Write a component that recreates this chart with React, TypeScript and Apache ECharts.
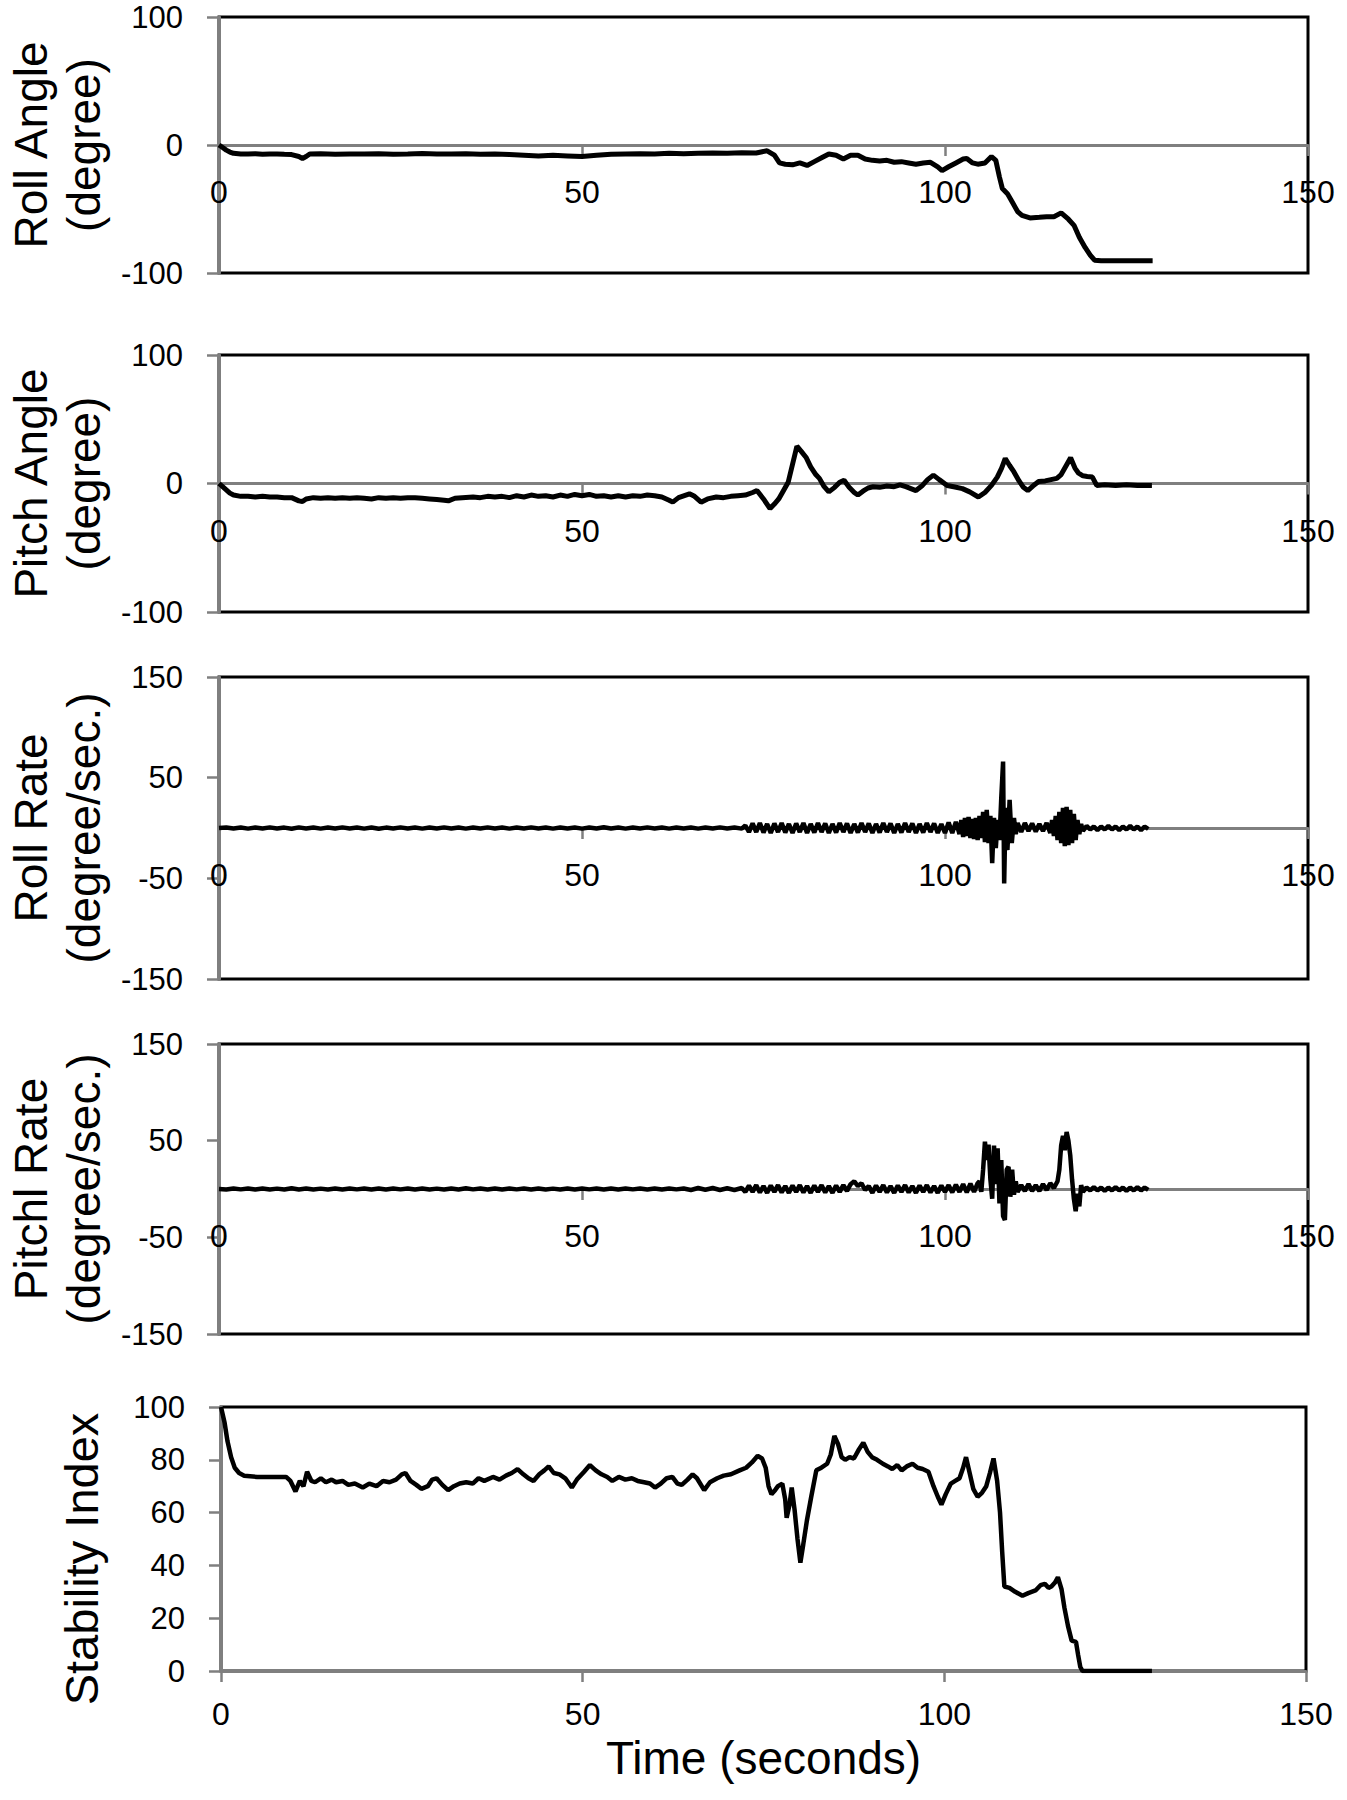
import React, { useEffect, useRef } from "react";
import * as echarts from "echarts";

// ---------- data (time in seconds, value) ----------
const xTicks = [0, 50, 100, 150];

const rollAngle: number[][] = [
  [0, 0], [0.5, -2], [1, -4], [1.5, -5.5], [2, -6.5], [3, -7], [4, -7], [5, -6.8], [6, -7.2], [7, -7], [8, -7], [9, -7.3], [10, -7.5], [11, -9], [11.5, -10.5], [12, -9], [12.5, -7], [14, -6.8], [16, -7.2], [18, -7], [20, -7.1], [22, -6.8], [24, -7.2], [26, -7], [28, -6.7], [30, -7.1], [32, -7], [34, -6.8], [36, -7.3], [38, -7], [40, -7.5], [42, -8], [44, -8.5], [46, -8], [48, -8.5], [50, -9], [52, -8], [54, -7.2], [56, -7], [58, -6.8], [60, -7], [62, -6.5], [64, -6.8], [66, -6.5], [68, -6.3], [70, -6.5], [72, -6], [74, -6.2], [75.5, -4.5], [76.5, -8], [77.2, -14], [78, -15], [79, -15.5], [80, -14], [81, -16], [82, -13], [83, -10], [84, -7], [85, -8], [86, -11], [87, -8], [88, -8], [89, -11], [90, -12], [91, -12.5], [92, -12], [93, -13.5], [94, -13], [95, -14], [96, -15], [97, -14], [98, -13.5], [99, -17], [99.6, -20], [100.5, -17], [101.5, -14], [102.5, -11], [103, -10.5], [103.8, -14], [104.5, -15], [105.5, -14], [106.4, -9], [107, -12], [107.5, -25], [107.9, -34], [108.6, -38], [109.3, -45], [110, -52], [110.6, -55], [111.7, -57], [113, -56.5], [114, -56], [115, -56], [116, -53], [117, -58], [117.8, -63], [118.5, -72], [119.3, -80], [120, -86], [120.6, -90], [121.5, -90.5], [123, -90.5], [125, -90.5], [127, -90.5], [128.6, -90.5],
];

const pitchAngle: number[][] = [
  [0, 0], [0.5, -2.5], [1, -5], [1.5, -7.5], [2, -9], [3, -10], [4, -10], [5, -10.5], [6, -10], [7, -10.5], [8, -10.5], [9, -11], [10, -11], [11, -13.5], [11.5, -14], [12, -12], [13, -11], [14, -11.5], [15, -11], [16, -11.5], [17, -11], [18, -11.5], [19, -11], [20, -11.5], [21, -12], [22, -11], [23, -11.5], [24, -11], [25, -11.5], [26, -11], [27, -11], [28, -11.5], [29, -12], [30, -12.5], [31, -13], [31.6, -13.5], [32.5, -11.5], [33.5, -11], [35, -10.5], [36, -11], [37, -10], [38, -10.5], [39, -10], [40, -11], [41, -9.5], [42, -10.5], [43, -9], [44, -10], [45, -9.5], [46, -10.5], [47, -9], [48, -10], [49, -8.5], [50, -9.5], [51, -8.5], [52, -10], [53, -9.5], [54, -10.5], [55, -9.5], [56, -10.5], [57, -9.5], [58, -10], [59, -9], [60, -9.5], [61, -10.5], [62, -13], [62.5, -14.5], [63.3, -11], [64.8, -8], [65.5, -10], [66.4, -14.5], [67.3, -12], [68.5, -10.5], [69.5, -11], [70.5, -10], [71.5, -9.5], [72.5, -9], [73.5, -7], [74.1, -5.5], [75, -12], [75.9, -19.5], [76.5, -16], [77.1, -12], [77.8, -5], [78.4, 1], [79, 15], [79.6, 29], [80.2, 25], [80.9, 20], [81.5, 13], [82.2, 7], [82.7, 4], [83.3, -2], [84, -6.5], [84.8, -3], [85.5, 1], [86.1, 2.5], [86.8, -3], [87.5, -7], [88, -9], [88.7, -6], [89.4, -3.5], [90.1, -2.5], [91, -3], [92, -2], [93, -2.5], [93.8, -1], [94.6, -2.5], [95.3, -4], [96, -5.5], [96.8, -2], [97.6, 3], [98.4, 6.5], [99.2, 3], [100.3, -1.5], [101.2, -2.5], [102.4, -4], [103.4, -6.5], [104.6, -10.5], [105.5, -7], [106.4, -1.5], [107.2, 5], [107.8, 12], [108.3, 19.5], [108.9, 14], [109.5, 9], [110.2, 2], [110.8, -3], [111.4, -5.5], [112.1, -2], [112.9, 1.5], [113.8, 2], [114.6, 3], [115.4, 4], [116, 7], [116.7, 14], [117.3, 20], [117.9, 12], [118.4, 8], [119, 6], [119.6, 5.5], [120.3, 5], [120.9, -1.5], [122, -1], [123.5, -1.5], [125, -1], [126.5, -1.5], [128.5, -1.5],
];

const rollRate: number[][] = [
  [0, 0], [1, 0.5], [2, -0.5], [3, 0.4], [4, -0.6], [5, 0.5], [6, -0.4], [7, 0.6], [8, -0.5], [9, 0.4], [10, -0.8], [11, 0.6], [12, -0.5], [13, 0.5], [14, -0.6], [15, 0.4], [16, -0.5], [17, 0.6], [18, -0.4], [19, 0.5], [20, -0.6], [21, 0.5], [22, -0.8], [23, 0.4], [24, -0.5], [25, 0.6], [26, -0.5], [27, 0.4], [28, -0.6], [29, 0.5], [30, -0.4], [31, 0.6], [32, -0.5], [33, 0.5], [34, -0.6], [35, 0.4], [36, -0.5], [37, 0.6], [38, -0.5], [39, 0.4], [40, -0.6], [41, 0.5], [42, -0.5], [43, 0.6], [44, -0.4], [45, 0.5], [46, -0.6], [47, 0.5], [48, -0.5], [49, 0.4], [50, -0.6], [51, 0.5], [52, -0.5], [53, 0.8], [54, -0.5], [55, 0.4], [56, -0.6], [57, 0.5], [58, -0.5], [59, 0.6], [60, -0.4], [61, 0.5], [62, -0.6], [63, 0.5], [64, -0.5], [65, 0.4], [66, -0.6], [67, 0.5], [68, -0.5], [69, 0.6], [70, -0.5], [71, 0.4], [72, -0.6],
  [72.5, 2.5], [73, -4], [73.5, 4.5], [74, -4], [74.5, 5], [75, -4.5], [75.5, 4], [76, -5], [76.5, 4.5], [77, -4], [77.5, 5], [78, -4.5], [78.5, 4], [79, -5], [79.5, 4.5], [80, -4], [80.5, 5], [81, -5], [81.5, 4], [82, -4.5], [82.5, 5], [83, -4], [83.5, 4.5], [84, -5], [84.5, 4], [85, -4.5], [85.5, 5], [86, -4], [86.5, 4.5], [87, -5], [87.5, 4], [88, -4.5], [88.5, 5], [89, -4], [89.5, 4.5], [90, -5], [90.5, 4], [91, -4.5], [91.5, 5], [92, -4], [92.5, 4.5], [93, -5], [93.5, 4], [94, -4.5], [94.5, 5], [95, -4], [95.5, 4.5], [96, -5], [96.5, 4], [97, -4.5], [97.5, 5], [98, -4], [98.5, 4.5], [99, -5], [99.5, 4], [100, -5], [100.5, 5.5], [101, -5], [101.5, 6], [102, -6],
  [102.25, 8], [102.5, -9], [102.75, 10], [103, -8], [103.25, 11], [103.5, -10], [103.75, 9], [104, -11], [104.25, 10], [104.5, -12], [104.75, 12], [105, -10], [105.25, 16], [105.5, -14], [105.75, 18], [106, -15], [106.25, 12], [106.5, -35], [106.75, 10], [107, -20], [107.25, 8], [107.5, -12], [107.75, 30], [108, 66], [108.15, -55], [108.35, 20], [108.6, -22], [108.9, 28], [109.2, -15], [109.5, 10], [109.75, -6], [110, 5],
  [110.5, -4], [111, 5], [111.5, -3], [112, 4.5], [112.5, -3.5], [113, 4], [113.5, -3], [114, 5], [114.5, -5],
  [114.75, 8], [115, -8], [115.25, 12], [115.5, -12], [115.75, 16], [116, -15], [116.25, 20], [116.5, -18], [116.75, 21], [117, -17], [117.25, 18], [117.5, -15], [117.75, 14], [118, -12], [118.25, 8], [118.5, -6], [118.75, 4], [119, -3],
  [119.5, 2], [120, -1.5], [120.5, 1.5], [121, -2], [121.5, 1.5], [122, -1.5], [122.5, 2], [123, -1.5], [123.5, 1.5], [124, -2], [124.5, 1.5], [125, -1.5], [125.5, 2], [126, -1.5], [126.5, 1.5], [127, -2], [127.5, 1.5], [128, -1],
];

const pitchRate: number[][] = [
  [0, 0], [1, -0.5], [2, 0.6], [3, -0.4], [4, 0.5], [5, -0.6], [6, 0.5], [7, -0.5], [8, 0.4], [9, -0.6], [10, 0.8], [11, -0.5], [12, 0.6], [13, -0.5], [14, 0.4], [15, -0.6], [16, 0.5], [17, -0.5], [18, 0.6], [19, -0.4], [20, 0.5], [21, -0.6], [22, 0.5], [23, -0.5], [24, 0.6], [25, -0.4], [26, 0.5], [27, -0.6], [28, 0.5], [29, -0.5], [30, 0.4], [31, -0.6], [32, 0.5], [33, -0.5], [34, 0.8], [35, -0.4], [36, 0.5], [37, -0.6], [38, 0.5], [39, -0.5], [40, 0.6], [41, -0.4], [42, 0.5], [43, -0.6], [44, 0.5], [45, -0.5], [46, 0.4], [47, -0.6], [48, 0.5], [49, -0.5], [50, 0.6], [51, -0.4], [52, 0.5], [53, -0.6], [54, 0.5], [55, -0.5], [56, 0.6], [57, -0.4], [58, 0.5], [59, -0.6], [60, 0.5], [61, -0.5], [62, 0.6], [63, -0.4], [64, 0.5], [65, -1], [66, 1], [67, -0.8], [68, 1], [69, -1], [70, 0.8], [71, -1], [72, 1],
  [72.5, -3], [73, 3.5], [73.5, -3], [74, 4], [74.5, -3.5], [75, 3], [75.5, -4], [76, 3.5], [76.5, -3], [77, 4], [77.5, -3.5], [78, 3], [78.5, -4], [79, 3.5], [79.5, -3], [80, 4], [80.5, -3.5], [81, 3], [81.5, -4], [82, 3.5], [82.5, -3], [83, 4], [83.5, -3.5], [84, 3], [84.5, -4], [85, 3.5], [85.5, -3], [86, 4], [86.5, -2], [87, 5], [87.5, 8], [88, 3], [88.5, 6], [89, -1], [89.5, 3], [90, -4], [90.5, 3.5], [91, -3], [91.5, 4], [92, -3.5], [92.5, 3], [93, -4], [93.5, 3.5], [94, -3], [94.5, 4], [95, -3.5], [95.5, 3], [96, -4], [96.5, 3.5], [97, -3], [97.5, 4], [98, -3.5], [98.5, 3], [99, -4], [99.5, 3.5], [100, -3], [100.5, 4], [101, -3.5], [101.5, 4.5], [102, -3], [102.5, 5], [103, -3.5], [103.5, 5.5], [104, -3], [104.5, 6],
  [104.75, 8], [105, -3], [105.25, 20], [105.5, 49], [105.75, 30], [106, 46], [106.25, 10], [106.5, -10], [106.75, 45], [107, 5], [107.25, 42], [107.5, -15], [107.75, 30], [108, -28], [108.25, -32], [108.5, 20], [108.75, 23], [109, -8], [109.25, 20], [109.5, -6], [109.75, 8], [110, -3],
  [110.5, 4], [111, -2], [111.5, 5], [112, -2], [112.5, 4], [113, -2], [113.5, 5], [114, -1], [114.5, 6], [115, 1], [115.5, 8],
  [115.75, 20], [116, 45], [116.25, 55], [116.5, 40], [116.75, 59], [117, 50], [117.25, 35], [117.5, 10], [117.75, -10], [118, -23], [118.25, -5], [118.5, -18], [118.75, 4], [119, -3],
  [119.5, 1.5], [120, -1.5], [120.5, 2], [121, -1.5], [121.5, 1.5], [122, -2], [122.5, 1.5], [123, -1.5], [123.5, 2], [124, -1.5], [124.5, 1.5], [125, -2], [125.5, 1.5], [126, -1.5], [126.5, 2], [127, -1.5], [127.5, 1.5], [128, -1],
];

const stabilityIndex: number[][] = [
  [0, 100], [0.5, 94], [0.9, 87], [1.4, 81], [1.9, 77], [2.5, 75], [3.2, 74], [5, 73.5], [7, 73.5], [9, 73.5], [9.6, 72], [10.3, 68], [10.9, 72], [11.4, 70], [11.9, 75.5], [12.5, 72], [13, 71.5], [13.8, 73], [14.5, 71.5], [15.3, 72.5], [15.9, 71.5], [16.8, 72], [17.6, 70.5], [18.5, 71], [19.6, 69.5], [20.5, 71], [21.5, 70], [22.4, 72], [23.3, 71.5], [24.2, 72.5], [25, 74.5], [25.5, 75], [26.2, 72], [27, 70.5], [27.7, 69], [28.6, 70], [29.2, 72.5], [29.8, 73], [30.6, 70.5], [31.4, 68.5], [32.2, 70], [33, 71], [33.9, 71.5], [34.8, 71], [35.6, 73], [36.4, 72], [37.6, 73.5], [38.5, 72.5], [39.4, 74], [40.2, 75], [41, 76.5], [41.8, 74.5], [42.5, 73], [43.2, 72], [44, 74.5], [44.7, 76], [45.3, 77.5], [46, 75], [46.8, 74.5], [47.6, 73], [48.5, 69.5], [49.2, 72.5], [50.2, 75.5], [51, 78], [51.8, 76], [52.6, 74.5], [53.4, 73.5], [54.1, 72], [55, 73.5], [55.9, 72.5], [56.8, 73], [57.6, 72], [58.5, 71.5], [59.3, 71], [60, 69.5], [60.8, 71], [61.6, 73], [62.4, 73.5], [63.1, 71], [63.7, 70.5], [64.5, 72.5], [65.2, 74.5], [65.8, 73], [66.8, 68.5], [67.6, 71.5], [68.6, 73], [69.5, 74], [70.5, 74.5], [71.7, 76], [72.6, 77], [73.4, 79], [74.2, 81.5], [74.8, 80.5], [75.3, 77], [75.7, 70], [76.1, 67], [76.6, 68.5], [77, 70], [77.6, 71], [78, 65], [78.2, 58], [78.6, 63], [78.9, 69.5], [79.3, 61], [79.7, 50], [80.1, 41], [80.5, 48], [81, 57], [81.6, 66], [82.3, 76], [83, 77], [83.8, 78.5], [84.3, 82], [84.8, 89], [85.3, 86], [85.8, 81], [86.3, 80], [86.9, 81], [87.5, 80.5], [88.1, 83.5], [88.8, 86.5], [89.4, 83], [90, 81], [90.7, 80], [91.5, 78.5], [92.2, 77.5], [92.8, 76.5], [93.5, 78], [94.1, 76], [94.8, 77.5], [95.6, 78.5], [96.3, 77], [97, 76.5], [97.8, 75.5], [98.5, 70], [99.1, 66], [99.6, 63], [100.2, 67], [100.9, 71], [101.5, 72], [102.1, 73], [102.6, 77], [103, 81], [103.5, 75], [104, 69], [104.6, 66], [105.2, 67.5], [105.8, 70], [106.3, 75], [106.8, 80.5], [107.3, 72], [107.7, 60], [108, 45], [108.3, 32], [109, 31.5], [109.8, 30], [110.8, 28.5], [111.6, 29.5], [112.6, 30.5], [113.3, 32.5], [113.9, 33], [114.4, 31.5], [114.8, 32], [115.3, 33.5], [115.7, 35.5], [116.2, 31], [116.6, 24], [117.1, 17], [117.6, 11.5], [118.2, 11], [118.5, 6], [118.8, 1.5], [119.1, 0], [121, 0], [124, 0], [126, 0], [128.7, 0],
];

const yTicksAngle = [-100, 0, 100];
const yTicksRate = [-150, -50, 50, 150];
const yTicksStability = [0, 20, 40, 60, 80, 100];

const panelNames = [
  "Roll Angle\n(degree)",
  "Pitch Angle\n(degree)",
  "Roll Rate\n(degree/sec.)",
  "Pitchl Rate\n(degree/sec.)",
  "Stability Index",
];
const xTitle = "Time (seconds)";

// ---------- layout / style ----------
const FONT = '"Liberation Sans", Arial, Helvetica, sans-serif';
const GRAY = "#7f7f7f";

const layouts = [
  { left: 219, top: 17, width: 1089, height: 256 },
  { left: 219, top: 355, width: 1089, height: 257 },
  { left: 219, top: 677, width: 1089, height: 302 },
  { left: 219, top: 1044, width: 1089, height: 290 },
  { left: 221, top: 1407, width: 1085, height: 264 },
];

function buildOption() {
  const datasets = [rollAngle, pitchAngle, rollRate, pitchRate, stabilityIndex];
  const yTickSets = [yTicksAngle, yTicksAngle, yTicksRate, yTicksRate, yTicksStability];

  const grid = layouts.map((l) => ({
    left: l.left,
    top: l.top,
    width: l.width,
    height: l.height,
    show: true,
    borderColor: "#000",
    borderWidth: 3,
    backgroundColor: "transparent",
    containLabel: false,
    outerBoundsMode: "none",
  }));

  const xAxis = layouts.map((l, i) => ({
    type: "value",
    gridIndex: i,
    min: xTicks[0],
    max: xTicks[xTicks.length - 1],
    interval: 50,
    position: "bottom",
    // panels 1-4: axis drawn through the zero line (middle of the symmetric range)
    offset: i === 4 ? 0 : -l.height / 2,
    axisLine: { show: true, onZero: false, lineStyle: { color: GRAY, width: 3 } },
    axisTick: { show: true, inside: false, length: 11, lineStyle: { color: GRAY, width: 2.5 } },
    axisLabel: {
      show: true,
      color: "#000",
      fontFamily: FONT,
      fontSize: 32,
      margin: i === 4 ? 27 : 31,
      showMinLabel: true,
      showMaxLabel: true,
    },
    splitLine: { show: false },
    ...(i === 4
      ? {
          name: xTitle,
          nameLocation: "middle",
          nameGap: 64,
          nameTextStyle: { color: "#000", fontFamily: FONT, fontSize: 46, lineHeight: 46 },
        }
      : {}),
  }));

  const yAxis = layouts.map((_, i) => {
    const ticks = yTickSets[i];
    const base: any = {
      type: "value",
      gridIndex: i,
      min: ticks[0],
      max: ticks[ticks.length - 1],
      axisLine: { show: true, onZero: false, lineStyle: { color: GRAY, width: 3 } },
      axisTick: { show: true, inside: false, length: 12, lineStyle: { color: GRAY, width: 2.5 } },
      axisLabel: { show: true, color: "#000", fontFamily: FONT, fontSize: 31, margin: 36 },
      splitLine: { show: false },
      name: panelNames[i],
      nameLocation: "middle",
      nameRotate: 90,
      nameGap: i === 4 ? 113 : 109,
      nameTextStyle:
        i === 4
          ? { color: "#000", fontFamily: FONT, fontSize: 47, lineHeight: 54, padding: [0, 40, 0, 0] }
          : { color: "#000", fontFamily: FONT, fontSize: 46, lineHeight: 53 },
    };
    if (i === 2 || i === 3) {
      base.axisTick.customValues = ticks;
      base.axisLabel.customValues = ticks;
    } else {
      base.interval = ticks[1] - ticks[0];
    }
    return base;
  });

  const series = datasets.map((d, i) => ({
    type: "line",
    xAxisIndex: i,
    yAxisIndex: i,
    data: d,
    showSymbol: false,
    symbol: "none",
    smooth: false,
    clip: true,
    lineStyle: { color: "#000", width: i === 4 ? 4.5 : i === 2 || i === 3 ? 4.5 : 5 },
    z: 3,
  }));

  return {
    animation: false,
    backgroundColor: "#fff",
    textStyle: { fontFamily: FONT },
    grid,
    xAxis,
    yAxis,
    series,
  };
}

export default function App() {
  const ref = useRef<HTMLDivElement | null>(null);
  useEffect(() => {
    if (!ref.current) return;
    const chart = echarts.init(ref.current, null, { renderer: "svg" });
    chart.setOption(buildOption() as any);
    return () => {
      chart.dispose();
    };
  }, []);
  return (
    <div
      ref={ref}
      style={{ position: "absolute", left: 0, top: 0, width: 1347, height: 1800, background: "#fff" }}
    />
  );
}
